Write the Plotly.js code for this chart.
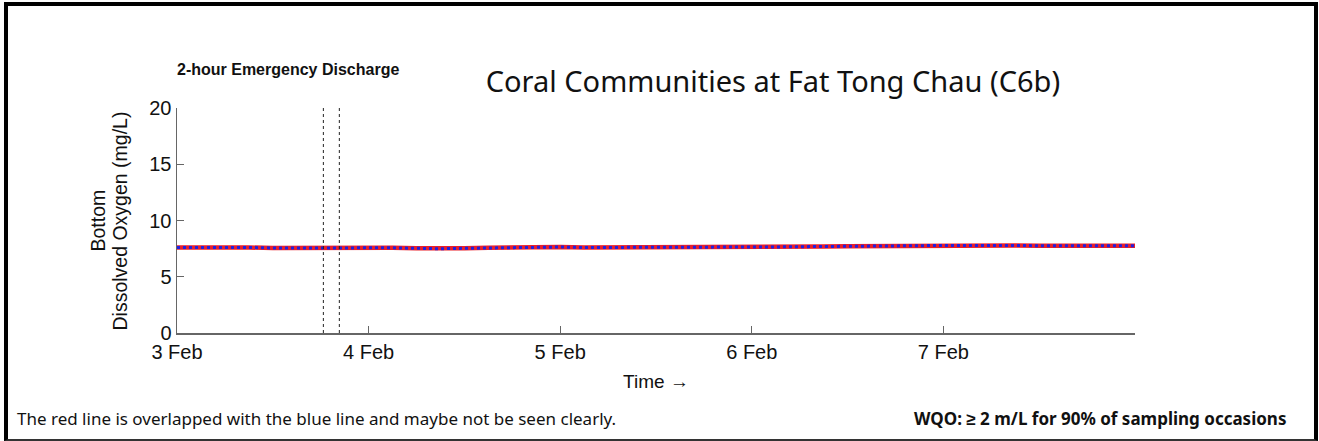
<!DOCTYPE html>
<html>
<head>
<meta charset="utf-8">
<script src="https://cdn.plot.ly/plotly-3.0.1.min.js"></script>
<style>
  html, body { margin: 0; padding: 0; background: #fff; }
  #wrap { position: relative; width: 1319px; height: 441px; }
  #chart { width: 1319px; height: 441px; }
  #frame { position: absolute; left: 4px; top: 2px; width: 1306px; height: 433px;
           border-left: 4px solid #000; border-right: 4px solid #000;
           border-top: 4px solid #000; border-bottom: 2px solid #333;
           pointer-events: none; }
</style>
</head>
<body>
<div id="wrap">
  <div id="chart"></div>
  <div id="frame"></div>
</div>
<script>
// Time stamps (every 3 hours)
const times = [
  '2024-02-03 00:00','2024-02-03 03:00','2024-02-03 06:00','2024-02-03 09:00','2024-02-03 12:00','2024-02-03 15:00','2024-02-03 18:00','2024-02-03 21:00',
  '2024-02-04 00:00','2024-02-04 03:00','2024-02-04 06:00','2024-02-04 09:00','2024-02-04 12:00','2024-02-04 15:00','2024-02-04 18:00','2024-02-04 21:00',
  '2024-02-05 00:00','2024-02-05 03:00','2024-02-05 06:00','2024-02-05 09:00','2024-02-05 12:00','2024-02-05 15:00','2024-02-05 18:00','2024-02-05 21:00',
  '2024-02-06 00:00','2024-02-06 03:00','2024-02-06 06:00','2024-02-06 09:00','2024-02-06 12:00','2024-02-06 15:00','2024-02-06 18:00','2024-02-06 21:00',
  '2024-02-07 00:00','2024-02-07 03:00','2024-02-07 06:00','2024-02-07 09:00','2024-02-07 12:00','2024-02-07 15:00','2024-02-07 18:00','2024-02-07 21:00',
  '2024-02-08 00:00'
];
// Bottom dissolved oxygen (mg/L) - scenario with emergency discharge (red)
const doWithDischarge = [
  7.60, 7.62, 7.62, 7.60, 7.56, 7.57, 7.60, 7.61,
  7.60, 7.57, 7.53, 7.49, 7.53, 7.57, 7.62, 7.65,
  7.64, 7.60, 7.60, 7.62, 7.63, 7.63, 7.62, 7.63,
  7.64, 7.65, 7.67, 7.70, 7.72, 7.74, 7.75, 7.76,
  7.78, 7.78, 7.80, 7.78, 7.76, 7.75, 7.74, 7.74,
  7.75
];
// Baseline scenario (blue, dotted) - overlaps the red line
const doBaseline = [
  7.60, 7.62, 7.62, 7.60, 7.56, 7.57, 7.60, 7.61,
  7.60, 7.57, 7.53, 7.49, 7.53, 7.57, 7.62, 7.65,
  7.64, 7.60, 7.60, 7.62, 7.63, 7.63, 7.62, 7.63,
  7.64, 7.65, 7.67, 7.70, 7.72, 7.74, 7.75, 7.76,
  7.78, 7.78, 7.80, 7.78, 7.76, 7.75, 7.74, 7.74,
  7.75
];
const dischargeWindow = ['2024-02-03 18:20', '2024-02-03 20:20'];
const xRange = ['2024-02-03 00:00', '2024-02-08 00:00'];
const xTickVals = ['2024-02-03', '2024-02-04', '2024-02-05', '2024-02-06', '2024-02-07'];
const xTickText = ['3 Feb', '4 Feb', '5 Feb', '6 Feb', '7 Feb'];
const yTickVals = [0, 5, 10, 15, 20];

const axisColor = '#666';
const arial = 'Liberation Sans, Arial, sans-serif';
const tickFont = { family: arial, size: 20, color: '#111' };

const traces = [
  { x: times, y: doWithDischarge, type: 'scatter', mode: 'lines',
    line: { color: '#e8202a', width: 4.5 }, name: 'With discharge', hoverinfo: 'x+y' },
  { x: times, y: doBaseline, type: 'scatter', mode: 'lines',
    line: { color: '#2020e0', width: 3, dash: 'dot' }, name: 'Baseline', hoverinfo: 'x+y' }
];

const shapes = dischargeWindow.map(t => ({
  type: 'line', xref: 'x', yref: 'y', x0: t, x1: t, y0: 0, y1: 20,
  line: { color: '#222', width: 1, dash: 'dot' }
}));

const layout = {
  width: 1319, height: 441,
  margin: { l: 177, r: 184, t: 108, b: 108 },
  paper_bgcolor: '#fff', plot_bgcolor: '#fff',
  showlegend: false,
  title: { text: 'Coral Communities at Fat Tong Chau (C6b)',
           font: { family: 'Noto Sans, sans-serif', size: 29, color: '#111' },
           x: 0.586, xanchor: 'center', y: 0.815, yanchor: 'middle' },
  xaxis: {
    type: 'date', range: xRange,
    tickvals: xTickVals, ticktext: xTickText,
    showgrid: false, zeroline: false,
    showline: true, linecolor: axisColor, linewidth: 1.5,
    ticks: 'inside', ticklen: 7, tickcolor: axisColor, tickwidth: 1,
    tickfont: tickFont,
    title: { text: 'Time \u2192', font: { family: arial, size: 19, color: '#111' }, standoff: 13 }
  },
  yaxis: {
    range: [0, 20], tickvals: yTickVals,
    showgrid: false, zeroline: false,
    showline: true, linecolor: axisColor, linewidth: 1.5,
    ticks: 'inside', ticklen: 7, tickcolor: axisColor, tickwidth: 1,
    tickfont: tickFont
  },
  shapes: shapes,
  annotations: [
    { text: 'Bottom', xref: 'paper', yref: 'paper', x: -0.0835, y: 0.5,
      xanchor: 'center', yanchor: 'middle', textangle: -90, showarrow: false,
      font: { family: arial, size: 19.5, color: '#111' } },
    { text: 'Dissolved Oxygen (mg/L)', xref: 'paper', yref: 'paper', x: -0.0595, y: 0.5,
      xanchor: 'center', yanchor: 'middle', textangle: -90, showarrow: false,
      font: { family: arial, size: 19.5, color: '#111' } },
    { text: '<b>2-hour Emergency Discharge</b>', xref: 'paper', yref: 'paper',
      x: 0.116, y: 1.173, xanchor: 'center', yanchor: 'middle', showarrow: false,
      font: { family: arial, size: 16, color: '#111' } },
    { text: 'The red line is overlapped with the blue line and maybe not be seen clearly.',
      xref: 'paper', yref: 'paper', x: -0.169, y: -0.382, xanchor: 'left', yanchor: 'middle', showarrow: false,
      font: { family: 'Noto Sans, sans-serif', size: 17, color: '#111' } },
    { text: '<b>WQO: \u2265 2 m/L for 90% of sampling occasions</b>',
      xref: 'paper', yref: 'paper', x: 1.16, y: -0.382, xanchor: 'right', yanchor: 'middle', showarrow: false,
      font: { family: 'Noto Sans, sans-serif', size: 17, color: '#111' } }
  ]
};

Plotly.newPlot('chart', traces, layout, { staticPlot: true, displayModeBar: false });
</script>
</body>
</html>
